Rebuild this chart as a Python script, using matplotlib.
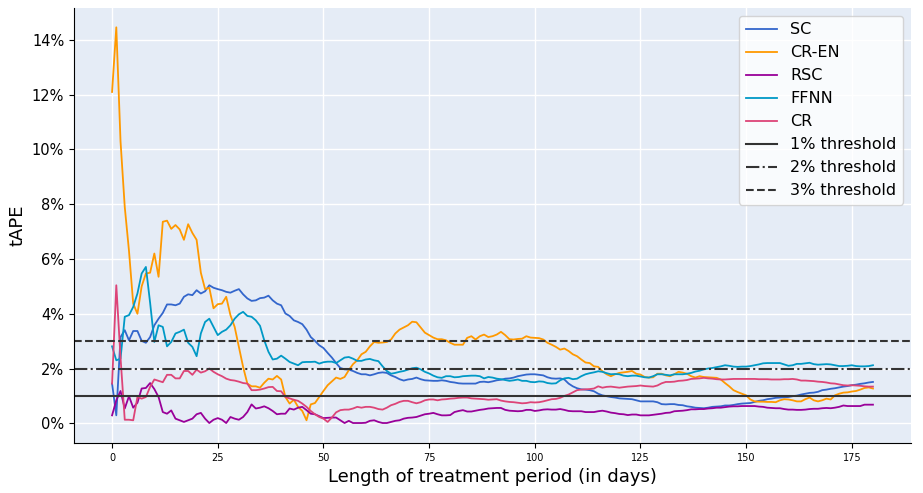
import matplotlib
matplotlib.use("Agg")
import matplotlib.pyplot as plt
from matplotlib.ticker import PercentFormatter

days = list(range(181))

sc = [1.45, 0.29, 3.15, 3.40, 3.03, 3.37, 3.37, 3.01, 2.94, 3.15, 3.58, 3.82, 4.03, 4.34, 4.34, 4.31, 4.37, 4.62, 4.71, 4.68, 4.86, 4.74, 4.82, 5.04, 4.95, 4.90,
      4.86, 4.80, 4.77, 4.84, 4.90, 4.71, 4.56, 4.47, 4.49, 4.57, 4.59, 4.66, 4.49, 4.37, 4.31, 4.01, 3.92, 3.76, 3.70, 3.62, 3.42, 3.15, 3.01, 2.85, 2.75,
      2.57, 2.40, 2.20, 2.02, 1.97, 1.96, 1.91, 1.84, 1.79, 1.79, 1.75, 1.79, 1.84, 1.86, 1.84, 1.75, 1.69, 1.61, 1.56, 1.60, 1.62, 1.67, 1.61, 1.57, 1.56,
      1.55, 1.55, 1.57, 1.55, 1.51, 1.49, 1.46, 1.45, 1.45, 1.45, 1.45, 1.51, 1.52, 1.50, 1.53, 1.57, 1.59, 1.63, 1.64, 1.67, 1.72, 1.75, 1.78, 1.79, 1.79,
      1.77, 1.75, 1.68, 1.64, 1.63, 1.64, 1.60, 1.45, 1.35, 1.28, 1.24, 1.23, 1.21, 1.17, 1.08, 1.02, 0.99, 0.96, 0.94, 0.91, 0.90, 0.89, 0.88, 0.84, 0.80,
      0.80, 0.80, 0.80, 0.77, 0.70, 0.69, 0.70, 0.70, 0.67, 0.66, 0.62, 0.60, 0.57, 0.56, 0.55, 0.57, 0.60, 0.61, 0.62, 0.65, 0.65, 0.67, 0.70, 0.72, 0.73,
      0.74, 0.78, 0.82, 0.84, 0.88, 0.90, 0.93, 0.94, 0.95, 0.96, 0.99, 1.01, 1.05, 1.08, 1.11, 1.12, 1.15, 1.21, 1.23, 1.26, 1.28, 1.31, 1.34, 1.36, 1.39,
      1.41, 1.44, 1.46, 1.49, 1.51]

cr_en = [12.1, 14.46, 10.3, 7.9, 6.3, 4.37, 4.0, 5.0, 5.47, 5.5, 6.2, 5.35, 7.36, 7.4, 7.1, 7.24, 7.08, 6.7, 7.27, 6.95, 6.7, 5.5, 4.9, 4.95, 4.2, 4.35,
         4.37, 4.62, 3.95, 3.52, 2.79, 2.06, 1.45, 1.35, 1.35, 1.30, 1.48, 1.63, 1.6, 1.73, 1.6, 0.96, 0.72, 0.86, 0.6, 0.45, 0.11, 0.69, 0.74, 0.96, 1.18,
         1.39, 1.53, 1.67, 1.62, 1.69, 1.94, 2.16, 2.30, 2.52, 2.61, 2.81, 2.97, 2.94, 2.95, 2.97, 3.06, 3.28, 3.42, 3.50, 3.58, 3.71, 3.69, 3.50, 3.31, 3.22,
         3.13, 3.07, 3.07, 3.03, 2.94, 2.87, 2.87, 2.87, 3.12, 3.18, 3.06, 3.18, 3.24, 3.15, 3.18, 3.24, 3.34, 3.22, 3.07, 3.06, 3.08, 3.09, 3.18, 3.13, 3.12,
         3.11, 3.06, 2.94, 2.87, 2.79, 2.69, 2.73, 2.64, 2.52, 2.45, 2.33, 2.22, 2.20, 2.08, 2.06, 1.90, 1.79, 1.72, 1.79, 1.84, 1.86, 1.88, 1.91, 1.81, 1.78,
         1.69, 1.67, 1.68, 1.81, 1.81, 1.75, 1.72, 1.79, 1.88, 1.85, 1.81, 1.72, 1.67, 1.72, 1.69, 1.68, 1.67, 1.66, 1.60, 1.47, 1.35, 1.21, 1.14, 1.08, 1.02,
         0.87, 0.80, 0.79, 0.79, 0.78, 0.78, 0.77, 0.84, 0.88, 0.87, 0.84, 0.80, 0.80, 0.88, 0.94, 0.84, 0.80, 0.84, 0.90, 0.87, 1.02, 1.08, 1.12, 1.13, 1.16,
         1.18, 1.23, 1.29, 1.31, 1.27]

rsc = [0.29, 0.84, 1.18, 0.54, 0.99, 0.57, 0.75, 1.27, 1.29, 1.47, 1.25, 0.96, 0.41, 0.35, 0.47, 0.17, 0.11, 0.05, 0.11, 0.17, 0.33, 0.38, 0.17, 0.01, 0.13, 0.19,
       0.13, 0.01, 0.23, 0.17, 0.13, 0.23, 0.41, 0.69, 0.54, 0.57, 0.62, 0.55, 0.45, 0.33, 0.35, 0.35, 0.54, 0.50, 0.57, 0.60, 0.48, 0.35, 0.33, 0.26, 0.19,
       0.20, 0.21, 0.21, 0.11, 0.01, 0.09, 0.01, 0.01, 0.01, 0.02, 0.09, 0.11, 0.05, 0.01, 0.01, 0.05, 0.09, 0.11, 0.17, 0.20, 0.21, 0.23, 0.28, 0.33, 0.35,
       0.38, 0.33, 0.29, 0.29, 0.30, 0.41, 0.45, 0.48, 0.43, 0.43, 0.46, 0.49, 0.51, 0.54, 0.55, 0.56, 0.56, 0.49, 0.46, 0.45, 0.44, 0.45, 0.49, 0.49, 0.45,
       0.47, 0.50, 0.51, 0.50, 0.50, 0.52, 0.49, 0.45, 0.44, 0.44, 0.44, 0.41, 0.41, 0.41, 0.44, 0.46, 0.43, 0.39, 0.37, 0.34, 0.33, 0.30, 0.32, 0.32, 0.29,
       0.29, 0.29, 0.31, 0.33, 0.35, 0.38, 0.39, 0.44, 0.45, 0.46, 0.48, 0.51, 0.51, 0.52, 0.52, 0.54, 0.55, 0.57, 0.57, 0.59, 0.61, 0.62, 0.62, 0.63, 0.63,
       0.63, 0.63, 0.61, 0.60, 0.57, 0.56, 0.55, 0.55, 0.52, 0.50, 0.50, 0.49, 0.49, 0.50, 0.52, 0.53, 0.53, 0.55, 0.56, 0.55, 0.57, 0.60, 0.65, 0.63, 0.63,
       0.63, 0.63, 0.68, 0.68, 0.68]

ffnn = [2.81, 2.30, 2.36, 3.89, 3.95, 4.25, 4.74, 5.47, 5.71, 4.4, 2.97, 3.58, 3.52, 2.81, 2.97, 3.28, 3.34, 3.42, 2.94, 2.79, 2.45, 3.28, 3.70, 3.82, 3.52, 3.22,
        3.34, 3.42, 3.58, 3.82, 3.98, 4.07, 3.92, 3.89, 3.76, 3.56, 3.03, 2.61, 2.33, 2.36, 2.47, 2.36, 2.24, 2.18, 2.12, 2.23, 2.24, 2.24, 2.25, 2.18, 2.23,
        2.25, 2.25, 2.20, 2.30, 2.40, 2.42, 2.36, 2.28, 2.28, 2.33, 2.35, 2.30, 2.27, 2.08, 1.91, 1.81, 1.84, 1.88, 1.91, 1.96, 2.01, 2.03, 1.97, 1.88, 1.82,
        1.74, 1.68, 1.66, 1.72, 1.72, 1.68, 1.69, 1.72, 1.73, 1.74, 1.74, 1.72, 1.64, 1.69, 1.67, 1.63, 1.61, 1.58, 1.55, 1.57, 1.60, 1.55, 1.55, 1.51, 1.50,
        1.53, 1.52, 1.47, 1.45, 1.46, 1.57, 1.64, 1.66, 1.61, 1.63, 1.72, 1.79, 1.83, 1.86, 1.90, 1.88, 1.83, 1.79, 1.80, 1.79, 1.74, 1.72, 1.74, 1.74, 1.71,
        1.68, 1.67, 1.72, 1.79, 1.79, 1.77, 1.75, 1.79, 1.79, 1.79, 1.81, 1.84, 1.89, 1.92, 1.97, 2.00, 2.02, 2.05, 2.08, 2.12, 2.10, 2.07, 2.06, 2.07, 2.07,
        2.09, 2.12, 2.15, 2.19, 2.20, 2.20, 2.20, 2.20, 2.15, 2.10, 2.12, 2.17, 2.17, 2.19, 2.21, 2.16, 2.14, 2.15, 2.16, 2.15, 2.12, 2.09, 2.09, 2.10, 2.12,
        2.09, 2.08, 2.08, 2.09, 2.12]

cr = [1.45, 5.04, 2.4, 0.13, 0.13, 0.11, 0.96, 0.90, 0.96, 1.33, 1.6, 1.55, 1.5, 1.77, 1.77, 1.64, 1.64, 1.91, 1.91, 1.77, 1.96, 1.85, 1.90, 2.0, 1.88, 1.79,
      1.72, 1.63, 1.58, 1.56, 1.52, 1.47, 1.45, 1.21, 1.21, 1.23, 1.27, 1.32, 1.33, 1.18, 1.17, 0.96, 0.91, 0.86, 0.82, 0.72, 0.60, 0.45, 0.33, 0.23, 0.17,
      0.05, 0.21, 0.40, 0.48, 0.50, 0.50, 0.54, 0.60, 0.57, 0.60, 0.60, 0.57, 0.52, 0.50, 0.57, 0.66, 0.71, 0.78, 0.82, 0.82, 0.77, 0.73, 0.77, 0.84, 0.87,
      0.87, 0.84, 0.87, 0.88, 0.90, 0.91, 0.93, 0.94, 0.94, 0.91, 0.90, 0.89, 0.88, 0.86, 0.87, 0.88, 0.83, 0.80, 0.78, 0.77, 0.75, 0.73, 0.74, 0.77, 0.76,
      0.77, 0.80, 0.84, 0.88, 0.89, 0.93, 1.00, 1.05, 1.13, 1.21, 1.23, 1.24, 1.25, 1.27, 1.35, 1.30, 1.33, 1.34, 1.32, 1.30, 1.32, 1.34, 1.35, 1.36, 1.38,
      1.36, 1.35, 1.34, 1.38, 1.46, 1.51, 1.51, 1.52, 1.55, 1.56, 1.58, 1.62, 1.63, 1.64, 1.66, 1.64, 1.63, 1.61, 1.60, 1.60, 1.61, 1.62, 1.62, 1.62, 1.62,
      1.62, 1.62, 1.61, 1.61, 1.61, 1.60, 1.60, 1.60, 1.61, 1.61, 1.62, 1.60, 1.56, 1.56, 1.55, 1.54, 1.52, 1.51, 1.49, 1.46, 1.45, 1.42, 1.39, 1.38, 1.39,
      1.38, 1.37, 1.35, 1.34, 1.34]

series_names = ["SC", "CR-EN", "RSC", "FFNN", "CR"]
series_values = [sc, cr_en, rsc, ffnn, cr]
series_colors = ["#3366CC", "#FF9900", "#990099", "#0099C6", "#DD4477"]

thresholds = [1, 2, 3]
threshold_labels = ["1% threshold", "2% threshold", "3% threshold"]
threshold_styles = ["-", "-.", "--"]

x_ticks = [0, 25, 50, 75, 100, 125, 150, 175]
y_ticks = [0, 2, 4, 6, 8, 10, 12, 14]

fig = plt.figure(figsize=(9.23, 4.93), dpi=100)
ax = fig.add_axes([0.0802, 0.1014, 0.9068, 0.8826])
ax.set_facecolor("#E5ECF6")
ax.set_axisbelow(True)
ax.grid(True, color="white", linewidth=1.0)

for name, vals, col in zip(series_names, series_values, series_colors):
    ax.plot(days, vals, color=col, linewidth=1.3, label=name)

for t, lab, ls in zip(thresholds, threshold_labels, threshold_styles):
    ax.axhline(t, color="#333333", linestyle=ls, linewidth=1.5, label=lab)

ax.set_xlim(-9, 189)
ax.set_ylim(-0.72, 15.17)
ax.set_xticks(x_ticks)
ax.set_yticks(y_ticks)
ax.yaxis.set_major_formatter(PercentFormatter(100, decimals=0))
ax.tick_params(axis="x", labelsize=7)
ax.tick_params(axis="y", labelsize=10.5)
ax.set_xlabel("Length of treatment period (in days)", fontsize=13)
ax.set_ylabel("tAPE", fontsize=13)
for s in ["top", "right"]:
    ax.spines[s].set_visible(False)

ax.legend(loc="upper right", fontsize=11.5)

fig.savefig("out.png", dpi=100)
